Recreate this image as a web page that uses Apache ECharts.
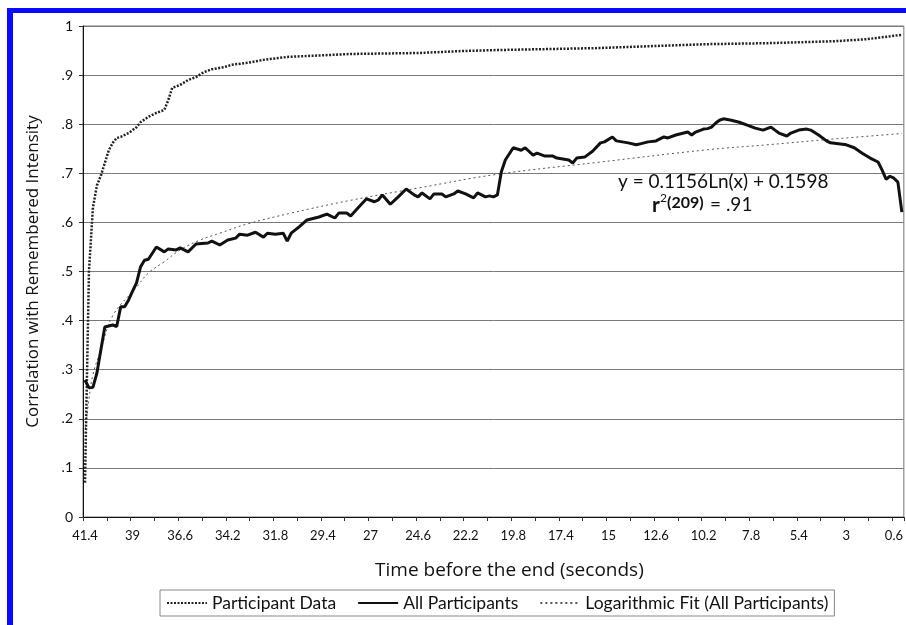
<!DOCTYPE html>
<html>
<head>
<meta charset="utf-8">
<script src="https://cdn.jsdelivr.net/npm/echarts@6/dist/echarts.min.js"></script>
<style>
html,body{margin:0;padding:0;background:#fff;}
#chart{width:906px;height:625px;}
</style>
</head>
<body>
<div id="chart"></div>
<script>
// Category axis: time before the end (seconds), 41.4 down to 0.2 in 0.2 s steps
const timeCategories = [];
for (let i = 414; i >= 2; i -= 2) timeCategories.push(String(i / 10));

// All Participants (solid)
const allTimes = [41.4,41.2,41.0,40.8,40.6,40.4,40.0,39.8,39.6,39.4,39.2,39.0,38.8,38.6,38.4,38.2,37.8,37.4,37.2,36.8,36.6,36.2,35.8,35.2,35.0,34.6,34.2,33.8,33.6,33.2,32.8,32.4,32.2,31.8,31.4,31.2,31.0,30.6,30.2,29.6,29.2,28.8,28.6,28.2,28.0,27.6,27.2,26.8,26.6,26.4,26.0,25.6,25.2,24.8,24.6,24.4,24.0,23.8,23.4,23.2,22.8,22.6,22.2,21.8,21.6,21.2,21.0,20.8,20.6,20.4,20.2,19.8,19.4,19.2,18.8,18.6,18.2,17.8,17.6,17.0,16.8,16.6,16.2,15.8,15.4,15.2,14.8,14.6,14.0,13.6,13.4,13.0,12.6,12.2,12.0,11.6,11.2,11.0,10.8,10.6,10.2,10.0,9.8,9.6,9.4,9.2,8.8,8.4,8.0,7.6,7.2,6.8,6.6,6.4,6.0,5.8,5.4,5.0,4.8,4.4,4.0,3.8,3.4,3.0,2.6,2.2,1.8,1.4,1.2,1.0,0.8,0.6,0.4,0.2];
const allValues = [0.279,0.263,0.264,0.293,0.34,0.387,0.391,0.388,0.428,0.428,0.442,0.46,0.477,0.509,0.523,0.525,0.55,0.54,0.546,0.544,0.548,0.54,0.556,0.558,0.562,0.554,0.564,0.568,0.576,0.574,0.58,0.57,0.578,0.576,0.578,0.562,0.578,0.591,0.605,0.611,0.617,0.609,0.619,0.619,0.613,0.631,0.648,0.642,0.646,0.656,0.637,0.652,0.668,0.656,0.652,0.66,0.648,0.658,0.658,0.652,0.658,0.664,0.658,0.65,0.66,0.652,0.654,0.652,0.656,0.703,0.727,0.752,0.747,0.752,0.737,0.741,0.735,0.735,0.731,0.727,0.721,0.731,0.733,0.745,0.762,0.764,0.774,0.766,0.762,0.758,0.76,0.764,0.766,0.774,0.772,0.778,0.782,0.784,0.778,0.784,0.79,0.791,0.794,0.802,0.808,0.811,0.808,0.804,0.798,0.792,0.788,0.794,0.788,0.782,0.776,0.782,0.788,0.79,0.788,0.778,0.766,0.762,0.76,0.758,0.752,0.741,0.731,0.723,0.707,0.688,0.694,0.69,0.682,0.621];

// Participant Data (heavy dotted)
const partTimes = [41.4,41.2,41.0,40.8,40.6,40.4,40.2,40.0,39.8,39.6,39.2,38.8,38.6,38.2,37.8,37.4,37.2,37.0,36.6,36.2,35.8,35.4,35.0,34.4,34.0,33.2,32.4,31.6,31.2,28.0,24.6,22.4,20.6,15.6,10.0,7.0,3.6,2.0,0.2];
const partValues = [0.07,0.50,0.63,0.675,0.695,0.721,0.747,0.762,0.772,0.774,0.782,0.794,0.804,0.815,0.823,0.829,0.849,0.874,0.880,0.890,0.896,0.906,0.912,0.916,0.921,0.925,0.931,0.935,0.937,0.943,0.945,0.949,0.951,0.955,0.963,0.965,0.969,0.973,0.982];

// Logarithmic Fit (All Participants) (thin dotted)
const fitTimes = [41.4,41.2,41.0,40.6,40.0,38.8,38.2,37.4,36.6,35.6,34.6,33.2,31.0,28.0,24.6,20.6,15.6,10.0,7.0,3.6,0.2];
const fitValues = [0.17,0.24,0.29,0.34,0.41,0.468,0.497,0.52,0.544,0.564,0.578,0.597,0.619,0.645,0.670,0.698,0.722,0.748,0.758,0.770,0.781];

// Y tick labels
const yTickLabels = ['0','.1','.2','.3','.4','.5','.6','.7','.8','.9','1'];

const pairs = (ts, vs) => ts.map((t, i) => [String(t), vs[i]]);

const FONT = 'Lato, "Open Sans", sans-serif';
const TITLE_FONT = '"Open Sans", Lato, sans-serif';
const chart = echarts.init(document.getElementById('chart'), null, {renderer: 'canvas'});

chart.setOption({
  backgroundColor: '#fff',
  animation: false,
  grid: {
    left: 83, right: 2, top: 26, bottom: 108,
    show: true, borderColor: '#777', borderWidth: 1, backgroundColor: 'transparent'
  },
  xAxis: {
    type: 'category',
    data: timeCategories,
    boundaryGap: true,
    name: 'Time before the end (seconds)',
    nameLocation: 'middle',
    nameGap: 44,
    nameTextStyle: {fontFamily: TITLE_FONT, fontSize: 19, color: '#111', padding: [0, 0, 0, 32]},
    axisLine: {lineStyle: {color: '#111', width: 1}},
    axisTick: {show: true, interval: 5, length: 4, alignWithLabel: false, lineStyle: {color: '#333'}},
    axisLabel: {interval: 11, fontFamily: FONT, fontSize: 13, color: '#111', margin: 12},
    splitLine: {show: false}
  },
  yAxis: {
    type: 'value',
    min: 0, max: 1, interval: 0.1,
    name: 'Correlation with Remembered Intensity',
    nameLocation: 'middle',
    nameGap: 41,
    nameTextStyle: {fontFamily: TITLE_FONT, fontSize: 17, color: '#111'},
    axisLine: {show: true, lineStyle: {color: '#111', width: 1}},
    axisTick: {show: true, length: 4, lineStyle: {color: '#333'}},
    axisLabel: {
      fontFamily: FONT, fontSize: 14, color: '#111', margin: 10,
      formatter: v => yTickLabels[Math.round(v * 10)]
    },
    splitLine: {show: true, lineStyle: {color: '#7a7a7a', width: 1}}
  },
  legend: {
    left: 160, top: 590,
    padding: [4, 6, 4, 6],
    borderColor: '#888', borderWidth: 1,
    itemGap: 21, itemWidth: 40, itemHeight: 12,
    itemStyle: {opacity: 0},
    textStyle: {fontFamily: FONT, fontSize: 17.5, color: '#111'},
    data: ['Participant Data', 'All Participants', 'Logarithmic Fit (All Participants)']
  },
  series: [
    {
      name: 'Participant Data', type: 'line', symbol: 'none', showSymbol: false,
      data: pairs(partTimes, partValues),
      lineStyle: {color: '#222', width: 2.5, type: [2, 1.5]},
      itemStyle: {color: '#222'}, z: 3
    },
    {
      name: 'All Participants', type: 'line', symbol: 'none', showSymbol: false,
      data: pairs(allTimes, allValues),
      lineStyle: {color: '#111', width: 3},
      itemStyle: {color: '#111'}, z: 4
    },
    {
      name: 'Logarithmic Fit (All Participants)', type: 'line', symbol: 'none', showSymbol: false,
      smooth: 0.4,
      data: pairs(fitTimes, fitValues),
      lineStyle: {color: '#555', width: 1, type: [2, 3]},
      itemStyle: {color: '#555'}, z: 2
    }
  ],
  graphic: [
    {type: 'rect', shape: {x: 7, y: 8, width: 6, height: 617}, style: {fill: '#0a0aff'}, z: 100},
    {type: 'rect', shape: {x: 7, y: 8, width: 899, height: 5}, style: {fill: '#0a0aff'}, z: 100},
    {type: 'text', x: 618, y: 182, style: {text: 'y = 0.1156Ln(x) + 0.1598', font: '19px ' + FONT, fill: '#111', textVerticalAlign: 'middle'}, z: 100},
    {type: 'text', x: 652, y: 205, style: {text: 'r', font: 'bold 21px ' + FONT, fill: '#111', textVerticalAlign: 'middle'}, z: 100},
    {type: 'text', x: 660, y: 198, style: {text: '2', font: '12px ' + FONT, fill: '#111', textVerticalAlign: 'middle'}, z: 100},
    {type: 'text', x: 667, y: 203, style: {text: '(209)', font: 'bold 16px ' + FONT, fill: '#111', textVerticalAlign: 'middle'}, z: 100},
    {type: 'text', x: 710, y: 205, style: {text: '= .91', font: '19px ' + FONT, fill: '#111', textVerticalAlign: 'middle'}, z: 100}
  ]
});
</script>
</body>
</html>
